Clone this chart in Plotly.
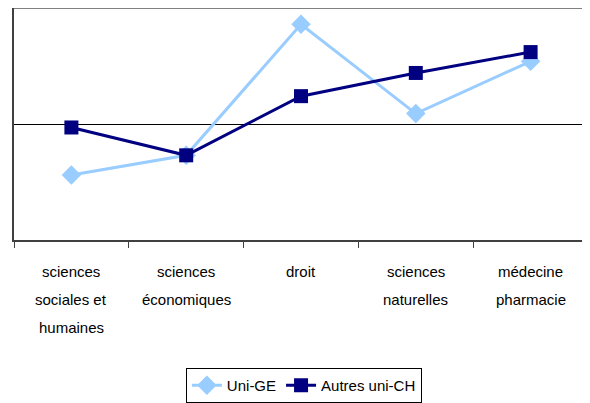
import plotly.graph_objects as go

categories = ["sciences<br>sociales et<br>humaines", "sciences<br>économiques", "droit",
              "sciences<br>naturelles", "médecine<br>pharmacie"]
uni_ge = [-4.4, -2.7, 8.6, 0.9, 5.4]
autres_uni_ch = [-0.3, -2.7, 2.4, 4.4, 6.2]
series_names = ["Uni-GE", "Autres uni-CH"]

FONT = "Liberation Sans, Arial, sans-serif"

fig = go.Figure()
fig.add_trace(go.Scatter(
    x=list(range(len(categories))), y=uni_ge, name=series_names[0], mode="lines+markers",
    line=dict(color="#99CCFF", width=3),
    marker=dict(symbol="diamond", size=15, color="#99CCFF"),
))
fig.add_trace(go.Scatter(
    x=list(range(len(categories))), y=autres_uni_ch, name=series_names[1], mode="lines+markers",
    line=dict(color="#000080", width=3),
    marker=dict(symbol="square", size=14, color="#000080"),
))

# category labels with Excel-like line spacing
annotations = []
for i, lab in enumerate(categories):
    for j, line in enumerate(lab.split("<br>")):
        annotations.append(dict(
            x=i, y=0, xref="x", yref="paper", text=line, showarrow=False,
            xanchor="center", yanchor="middle", yshift=-31 - 28 * j,
            font=dict(family=FONT, size=15, color="#000000"),
        ))

fig.update_layout(
    width=582, height=395,
    margin=dict(l=6, r=2, t=0, b=162),
    plot_bgcolor="white", paper_bgcolor="white",
    showlegend=True,
    legend=dict(
        orientation="h", x=0.505, xanchor="center", y=-0.55, yanchor="top",
        bordercolor="#000000", borderwidth=1, bgcolor="white",
        font=dict(family=FONT, size=15, color="#000000"),
        tracegroupgap=0,
    ),
    annotations=annotations,
    shapes=[
        dict(type="line", xref="paper", yref="paper", x0=0, x1=1, y0=1, y1=1,
             line=dict(color="#808080", width=2)),
        dict(type="line", xref="paper", yref="paper", x0=1, x1=1, y0=0, y1=1,
             line=dict(color="#808080", width=2)),
    ],
)
fig.update_xaxes(
    range=[-0.5, len(categories) - 0.5], tickmode="array",
    tickvals=[i - 0.5 for i in range(len(categories) + 1)],
    showticklabels=False, ticks="outside", ticklen=6, tickcolor="#404040", tickwidth=1,
    showgrid=False, showline=True, linecolor="#404040", linewidth=2, zeroline=False,
)
fig.update_yaxes(
    range=[-10, 10], showticklabels=False, ticks="", showgrid=False,
    showline=True, linecolor="#404040", linewidth=2,
    zeroline=True, zerolinecolor="#000000", zerolinewidth=1,
)

fig.write_html("out.html")
